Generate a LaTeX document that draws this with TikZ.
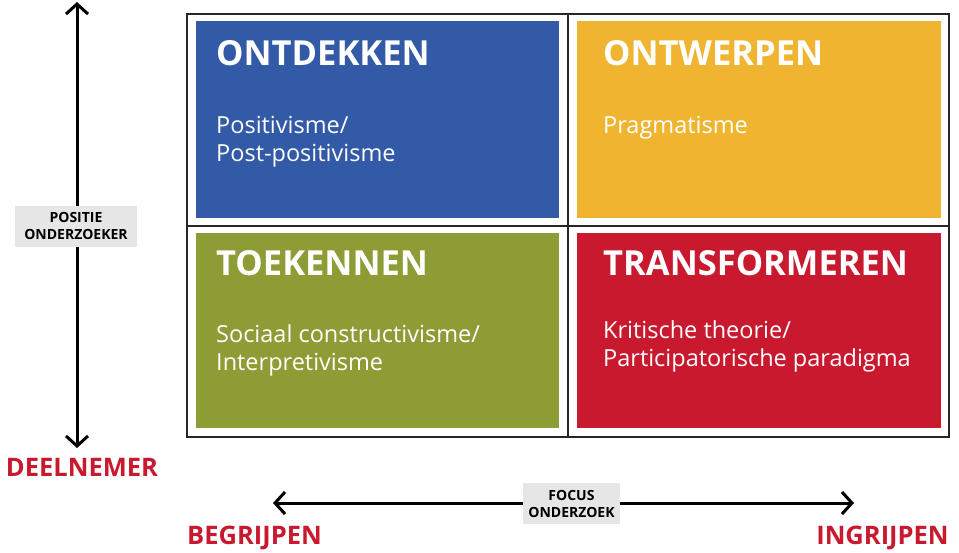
\documentclass[tikz,border=0pt]{standalone}
\usepackage{fontspec}
\setmainfont{Open Sans}
\usetikzlibrary{arrows.meta}
\definecolor{qblue}{HTML}{325AA6}
\definecolor{qyellow}{HTML}{F0B530}
\definecolor{qgreen}{HTML}{8E9C36}
\definecolor{qred}{HTML}{C8192F}
\definecolor{qgrey}{HTML}{E6E6E6}
\tikzset{
  quad/.style={rectangle, draw=none, inner sep=0pt},
  ttl/.style={anchor=base west, inner sep=0pt, text=white, font=\bfseries\fontsize{34.5}{40}\selectfont},
  sub/.style={anchor=base west, inner sep=0pt, text=white, font=\fontsize{23.5}{28}\selectfont},
  axislbl/.style={fill=qgrey, inner sep=0pt, align=center, font=\bfseries\fontsize{14}{17}\selectfont},
  pole/.style={inner sep=0pt, text=qred, font=\bfseries\fontsize{25.5}{28}\selectfont},
  axis/.style={line width=3pt, {Straight Barb[length=10pt,width=22pt,line width=3pt]}-{Straight Barb[length=10pt,width=22pt,line width=3pt]}}
}
\begin{document}
\begin{tikzpicture}[x=1pt,y=-1pt]
\useasboundingbox (0,0) rectangle (959,552);
% frame
\node[draw=black!85, line width=1.8pt, minimum width=762pt, minimum height=423pt, inner sep=0pt] (frame) at (568,225.5) {};
\coordinate (vt) at (568,14);
\coordinate (vb) at (568,437);
\coordinate (hl) at (187,226);
\coordinate (hr) at (949,226);
\draw[black!85, line width=1.8pt] (vt) -- (vb);
\draw[black!85, line width=1.8pt] (hl) -- (hr);
% quadrants
\node[quad, fill=qblue, minimum width=363pt, minimum height=197pt] (q1) at (377.5,119.5) {};
\node[quad, fill=qyellow, minimum width=364pt, minimum height=197pt] (q2) at (759,119.5) {};
\node[quad, fill=qgreen, minimum width=363pt, minimum height=195pt] (q3) at (377.5,330.5) {};
\node[quad, fill=qred, minimum width=364pt, minimum height=195pt] (q4) at (759,330.5) {};
% texts
\node[ttl] (t1) at (216,65) {ONTDEKKEN};
\node[sub] (s1a) at (216,133) {Positivisme/};
\node[sub] (s1b) at (216,161) {Post-positivisme};
\node[ttl] (t2) at (603,65) {ONTWERPEN};
\node[sub] (s2a) at (603,133) {Pragmatisme};
\node[ttl] (t3) at (216,275) {TOEKENNEN};
\node[sub] (s3a) at (216,342) {Sociaal constructivisme/};
\node[sub] (s3b) at (216,370) {Interpretivisme};
\node[ttl] (t4) at (603,275) {TRANSFORMEREN};
\node[sub] (s4a) at (603,338) {Kritische theorie/};
\node[sub] (s4b) at (603,366) {Participatorische paradigma};
% vertical axis
\coordinate (atop) at (77,2);
\coordinate (abot) at (77,448);
\draw[axis] (abot) -- (atop);
\node[axislbl, minimum width=122pt, minimum height=41pt] (pos) at (76,226) {POSITIE\\ONDERZOEKER};
\node[pole] (deel) at (82,467) {DEELNEMER};
% horizontal axis
\coordinate (aleft) at (273,503);
\coordinate (aright) at (854,503);
\draw[axis] (aleft) -- (aright);
\node[axislbl, minimum width=97pt, minimum height=41pt] (foc) at (571.5,503.5) {FOCUS\\ONDERZOEK};
\node[pole] (begr) at (254.5,538) {BEGRIJPEN};
\node[pole] (ingr) at (882.5,538) {INGRIJPEN};
\end{tikzpicture}
\end{document}
